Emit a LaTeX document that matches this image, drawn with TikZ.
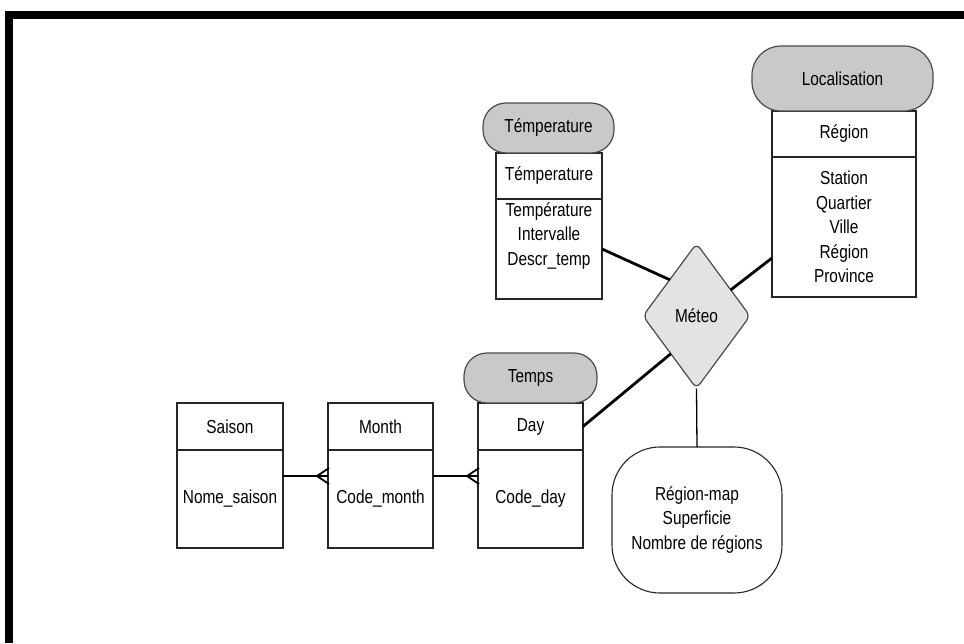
\documentclass[tikz,border=0pt]{standalone}
\usepackage{fontspec}
\setmainfont{Liberation Sans}[FakeStretch=0.82]
\usetikzlibrary{shapes.geometric,calc}
\definecolor{headfill}{HTML}{C9C9C9}
\definecolor{relfill}{HTML}{E3E3E3}
\definecolor{edgegray}{HTML}{4A4A4A}
\begin{document}
\begin{tikzpicture}[x=1pt,y=-1pt,
  every node/.style={font=\fontsize{18.8}{24.6}\selectfont, inner sep=0pt, outer sep=0pt, align=center},
  head/.style={draw=edgegray, fill=headfill, rounded corners=23pt, line width=1.2pt},
  cell/.style={draw=black!85, fill=white, line width=1.1pt},
  rel/.style={diamond, draw=edgegray, fill=relfill, line width=1.2pt, rounded corners=6pt,
              minimum width=107pt, minimum height=145pt, aspect=0.74},
  link/.style={line width=2.8pt},
  thinlink/.style={line width=1.3pt},
  crow/.style={line width=1.8pt}]
\useasboundingbox (0,0) rectangle (964,643);

% frame
\fill[black] (5,11) rectangle (964,19);
\fill[black] (5,11) rectangle (13,643);

% Témperature dimension
\node[cell, minimum width=106pt, minimum height=46pt] (tk) at (549,176) {Témperature};
\node[cell, minimum width=106pt, minimum height=100pt] (tb) at (549,249) {};
\node (tbt) at (549,236) {Température\\Intervalle\\Descr\_temp};
\node[head, minimum width=131pt, minimum height=50pt] (th) at (548.5,128) {Témperature};

% Localisation dimension
\node[cell, minimum width=144pt, minimum height=46pt] (lk) at (844,134) {Région};
\node[cell, minimum width=144pt, minimum height=140pt] (lb) at (844,227) {Station\\Quartier\\Ville\\Région\\Province};
\node[head, rounded corners=29pt, minimum width=181pt, minimum height=65pt] (lh) at (842.5,78.5) {Localisation};

% Temps dimension
\node[cell, minimum width=105pt, minimum height=47pt] (dt) at (530.5,426.5) {Day};
\node[cell, minimum width=105pt, minimum height=98pt] (db) at (530.5,499) {Code\_day};
\node[head, minimum width=133pt, minimum height=50pt] (dh) at (530.5,378) {Temps};

\node[cell, minimum width=105pt, minimum height=47pt] (mt) at (380.5,426.5) {Month};
\node[cell, minimum width=105pt, minimum height=98pt] (mb) at (380.5,499) {Code\_month};

\node[cell, minimum width=106pt, minimum height=47pt] (st) at (230,426.5) {Saison};
\node[cell, minimum width=106pt, minimum height=98pt] (sb) at (230,499) {Nome\_saison};

% fact
\node[rel] (met) at (696.5,316) {Méteo};
\node[cell, rounded corners=48pt, minimum width=170pt, minimum height=146pt] (rm) at (697,520)
  {Région-map\\Superficie\\Nombre de régions};

% links to the fact
\draw[link] (tb.east) -- ($(met.north)!0.5!(met.west)$);
\draw[link] ($(met.north)!0.64!(met.east)$) -- ([yshift=-31pt]lb.west);
\draw[link] ($(met.west)!0.52!(met.south)$) -- (dt.east);
\draw[thinlink] (met.south) -- (rm.north);

% hierarchy links with crow's feet
\draw[crow] ([yshift=23pt]sb.east) -- ([yshift=23pt]mb.west);
\draw[crow] ([xshift=1pt,yshift=15pt]mb.west) -- ([xshift=-11pt,yshift=23pt]mb.west) -- ([xshift=1pt,yshift=31pt]mb.west);
\draw[crow] ([yshift=23pt]mb.east) -- ([yshift=23pt]db.west);
\draw[crow] ([xshift=1pt,yshift=15pt]db.west) -- ([xshift=-11pt,yshift=23pt]db.west) -- ([xshift=1pt,yshift=31pt]db.west);
\end{tikzpicture}
\end{document}
